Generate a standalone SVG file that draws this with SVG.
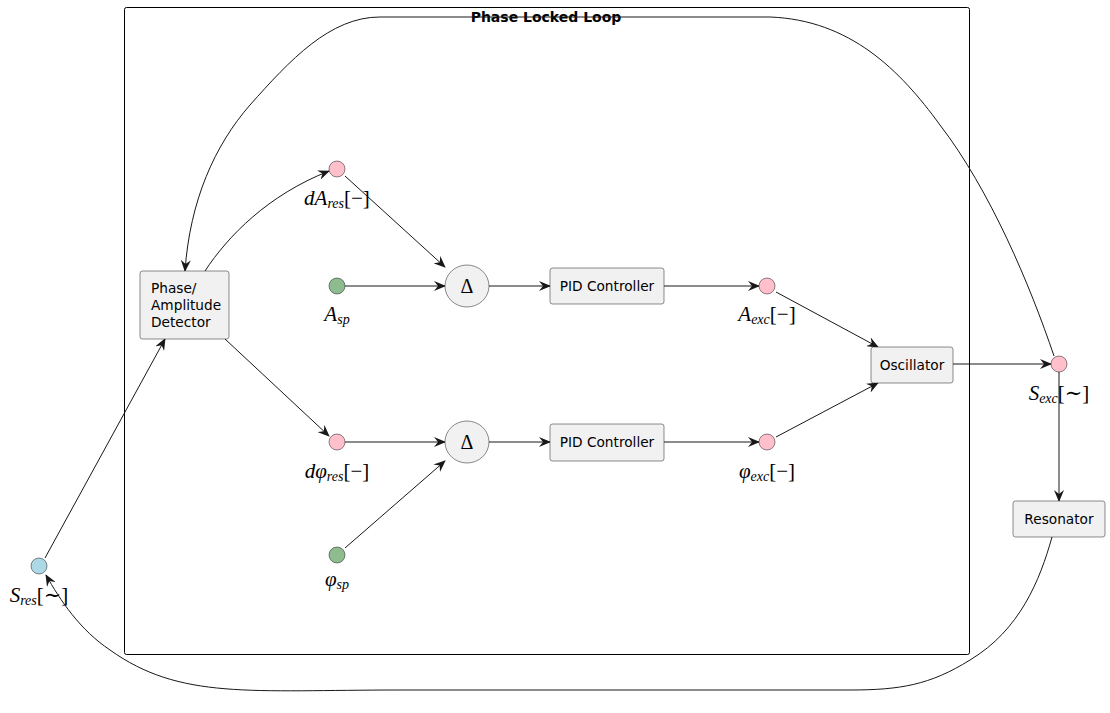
<svg xmlns="http://www.w3.org/2000/svg" width="1110" height="713" viewBox="0 0 1110 713">
<style>
.box{fill:#F1F1F1;stroke:#181818;stroke-width:0.5}
.lbl{font-family:"DejaVu Sans",sans-serif;font-size:13.7px;fill:#000}
.m{font-family:"Liberation Serif","DejaVu Serif",serif;font-size:21px;font-style:italic;fill:#000}
.up{font-style:normal}
.sub{font-size:14px}
.pink{fill:#FFC0CB;stroke:#181818;stroke-width:0.5}
.green{fill:#8FBC8F;stroke:#181818;stroke-width:0.5}
.blue{fill:#ADD8E6;stroke:#181818;stroke-width:0.5}
.c{fill:none;stroke:#181818;stroke-width:1}
</style>
<defs>
<marker id="ah" viewBox="0 0 12 10" refX="11" refY="5" markerWidth="12" markerHeight="10" markerUnits="userSpaceOnUse" orient="auto">
<path d="M0,0 L12,5 L0,10 L4,5 Z" fill="#181818"/>
</marker>
</defs>
<rect width="1110" height="713" fill="#fff"/>
<g id="frame">
<rect x="124.5" y="7.5" width="845" height="647" rx="2" fill="none" stroke="#000" stroke-width="1"/>
<text x="546" y="22" text-anchor="middle" font-family="DejaVu Sans,sans-serif" font-size="14" font-weight="bold">Phase Locked Loop</text>
</g>
<g id="connectors">
<path class="c" marker-end="url(#ah)" d="M205,271 C228,236 268,195 329,171"/>
<path class="c" marker-end="url(#ah)" d="M225,339 L329,436"/>
<path class="c" marker-end="url(#ah)" d="M45,558 L165,339"/>
<path class="c" marker-end="url(#ah)" d="M345,176 L445,267"/>
<path class="c" marker-end="url(#ah)" d="M345,286 L445,286"/>
<path class="c" marker-end="url(#ah)" d="M489,286 L550,286"/>
<path class="c" marker-end="url(#ah)" d="M664,286 L759,286"/>
<path class="c" marker-end="url(#ah)" d="M776,292 L878,347"/>
<path class="c" marker-end="url(#ah)" d="M345,442 L445,442"/>
<path class="c" marker-end="url(#ah)" d="M345,548 L445,461"/>
<path class="c" marker-end="url(#ah)" d="M489,442 L550,442"/>
<path class="c" marker-end="url(#ah)" d="M664,442 L759,442"/>
<path class="c" marker-end="url(#ah)" d="M776,437 L878,383"/>
<path class="c" marker-end="url(#ah)" d="M953,364 L1051,364"/>
<path class="c" marker-end="url(#ah)" d="M1059,372 L1059,501"/>
<path class="c" marker-end="url(#ah)" d="M1054,356 C1030,285 990,190 940,125 C900,70 850,20 770,17 L380,17 C330,17 290,60 250,105 C215,145 190,200 185,271"/>
<path class="c" marker-end="url(#ah)" d="M1052,537 C1040,580 1020,630 970,660 C930,685 900,690 850,690 L400,690 C250,690 180,700 110,650 C80,630 60,600 46,575"/>
</g>
<g id="detector">
<rect class="box" x="140" y="271" width="89" height="68" rx="2.5"/>
<text class="lbl" x="151" y="293">Phase/</text>
<text class="lbl" x="151" y="310">Amplitude</text>
<text class="lbl" x="151" y="327">Detector</text>
</g>
<g id="dAres">
<circle class="pink" cx="337" cy="169" r="8"/>
<text class="m" x="337" y="205" text-anchor="middle">dA<tspan class="sub" dy="3">res</tspan><tspan class="up" dy="-3">[−]</tspan></text>
</g>
<g id="Asp">
<circle class="green" cx="337" cy="286" r="8"/>
<text class="m" x="337" y="321" text-anchor="middle">A<tspan class="sub" dy="3">sp</tspan></text>
</g>
<g id="dphires">
<circle class="pink" cx="337" cy="442" r="8"/>
<text class="m" x="337" y="478" text-anchor="middle">dφ<tspan class="sub" dy="3">res</tspan><tspan class="up" dy="-3">[−]</tspan></text>
</g>
<g id="phisp">
<circle class="green" cx="337" cy="555" r="8"/>
<text class="m" x="337" y="586" text-anchor="middle">φ<tspan class="sub" dy="3">sp</tspan></text>
</g>
<g id="delta1">
<ellipse class="box" cx="467" cy="286" rx="22" ry="21"/>
<text x="467" y="293" text-anchor="middle" font-family="Liberation Serif,serif" font-size="20">Δ</text>
</g>
<g id="delta2">
<ellipse class="box" cx="467" cy="442" rx="22" ry="21"/>
<text x="467" y="449" text-anchor="middle" font-family="Liberation Serif,serif" font-size="20">Δ</text>
</g>
<g id="pid1">
<rect class="box" x="550" y="268" width="114" height="36" rx="2.5"/>
<text class="lbl" x="607" y="291" text-anchor="middle">PID Controller</text>
</g>
<g id="pid2">
<rect class="box" x="550" y="424" width="114" height="37" rx="2.5"/>
<text class="lbl" x="607" y="447" text-anchor="middle">PID Controller</text>
</g>
<g id="Aexc">
<circle class="pink" cx="767" cy="286" r="8"/>
<text class="m" x="767" y="321" text-anchor="middle">A<tspan class="sub" dy="3">exc</tspan><tspan class="up" dy="-3">[−]</tspan></text>
</g>
<g id="phiexc">
<circle class="pink" cx="767" cy="442" r="8"/>
<text class="m" x="767" y="478" text-anchor="middle">φ<tspan class="sub" dy="3">exc</tspan><tspan class="up" dy="-3">[−]</tspan></text>
</g>
<g id="oscillator">
<rect class="box" x="871" y="347" width="82" height="36" rx="2.5"/>
<text class="lbl" x="912" y="370" text-anchor="middle">Oscillator</text>
</g>
<g id="Sexc">
<circle class="pink" cx="1059" cy="364" r="8"/>
<text class="m" x="1059" y="400" text-anchor="middle">S<tspan class="sub" dy="3">exc</tspan><tspan class="up" dy="-3">[∼]</tspan></text>
</g>
<g id="resonator">
<rect class="box" x="1013" y="501" width="92" height="36" rx="2.5"/>
<text class="lbl" x="1059" y="524" text-anchor="middle">Resonator</text>
</g>
<g id="Sres">
<circle class="blue" cx="39" cy="566" r="8"/>
<text class="m" x="39" y="602" text-anchor="middle">S<tspan class="sub" dy="3">res</tspan><tspan class="up" dy="-3">[∼]</tspan></text>
</g>
</svg>
